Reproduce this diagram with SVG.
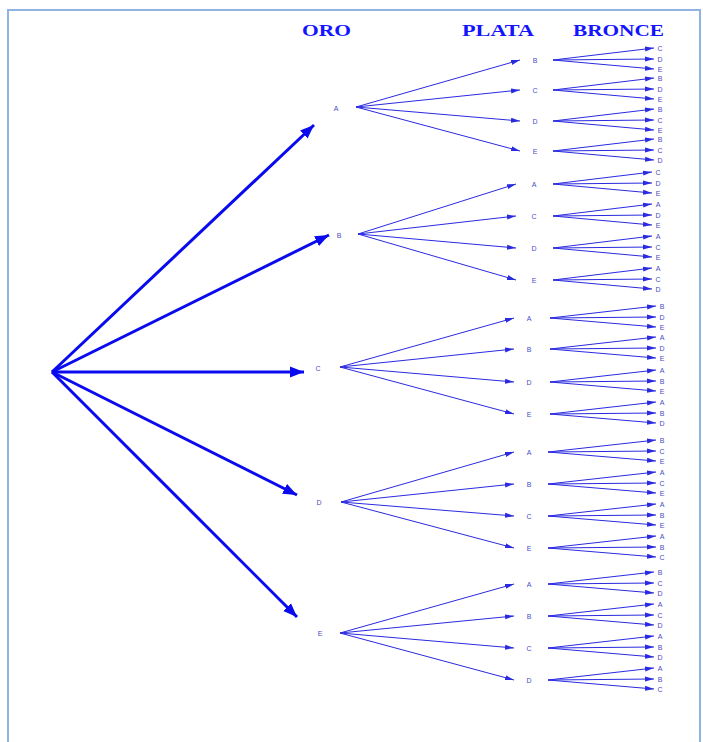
<svg xmlns="http://www.w3.org/2000/svg" width="703" height="742" viewBox="0 0 703 742">
<defs>
<marker id="big" markerUnits="userSpaceOnUse" markerWidth="16" markerHeight="12" refX="14" refY="6" orient="auto"><path d="M0,0.5 L14,6 L0,11.5 Z" fill="#0a0aee"/></marker>
<marker id="sm" markerUnits="userSpaceOnUse" markerWidth="10" markerHeight="6" refX="9" refY="3" orient="auto"><path d="M0,0.5 L9,3 L0,5.5 Z" fill="#2a2ae0"/></marker>
<style>
.h{font-family:"Liberation Serif",serif;font-weight:bold;font-size:16px;fill:#1414ff}
.n{font-family:"Liberation Sans",Arial,sans-serif;font-size:7px;fill:#4a4ac8;text-anchor:middle;dominant-baseline:central}
.b{stroke:#0a0aee;stroke-width:3;fill:none;marker-end:url(#big)}
.t{stroke:#2a2ae0;stroke-width:1;fill:none;marker-end:url(#sm)}
</style>
</defs>
<rect x="0" y="0" width="703" height="742" fill="#ffffff"/>
<rect x="8" y="10" width="692" height="745" fill="none" stroke="#8fb3e2" stroke-width="2"/>
<g id="headers">
<text class="h" x="302" y="36" textLength="49" lengthAdjust="spacingAndGlyphs">ORO</text>
<text class="h" x="462" y="36" textLength="72" lengthAdjust="spacingAndGlyphs">PLATA</text>
<text class="h" x="573" y="36" textLength="91" lengthAdjust="spacingAndGlyphs">BRONCE</text>
</g>
<g id="connectors">
<line class="b" x1="52" y1="372" x2="314" y2="125"/>
<line class="b" x1="52" y1="372" x2="329" y2="235"/>
<line class="b" x1="52" y1="372" x2="304" y2="372"/>
<line class="b" x1="52" y1="372" x2="297" y2="495"/>
<line class="b" x1="52" y1="372" x2="297" y2="617"/>
<!-- level 2 -->
<line class="t" x1="356" y1="107" x2="520" y2="60"/>
<line class="t" x1="356" y1="107" x2="520" y2="90"/>
<line class="t" x1="356" y1="107" x2="520" y2="121"/>
<line class="t" x1="356" y1="107" x2="520" y2="151"/>
<line class="t" x1="358" y1="234" x2="516" y2="184"/>
<line class="t" x1="358" y1="234" x2="516" y2="216"/>
<line class="t" x1="358" y1="234" x2="516" y2="248"/>
<line class="t" x1="358" y1="234" x2="516" y2="280"/>
<line class="t" x1="340" y1="367" x2="514" y2="318"/>
<line class="t" x1="340" y1="367" x2="514" y2="349"/>
<line class="t" x1="340" y1="367" x2="514" y2="382"/>
<line class="t" x1="340" y1="367" x2="514" y2="414"/>
<line class="t" x1="341" y1="502" x2="514" y2="452"/>
<line class="t" x1="341" y1="502" x2="514" y2="484"/>
<line class="t" x1="341" y1="502" x2="514" y2="516"/>
<line class="t" x1="341" y1="502" x2="514" y2="548"/>
<line class="t" x1="340" y1="633" x2="514" y2="584"/>
<line class="t" x1="340" y1="633" x2="514" y2="616"/>
<line class="t" x1="340" y1="633" x2="514" y2="648"/>
<line class="t" x1="340" y1="633" x2="514" y2="680"/>
<!-- level 3 group A -->
<line class="t" x1="553" y1="60" x2="654" y2="48"/>
<line class="t" x1="553" y1="60" x2="654" y2="59"/>
<line class="t" x1="553" y1="60" x2="654" y2="69"/>
<line class="t" x1="553" y1="90" x2="654" y2="78"/>
<line class="t" x1="553" y1="90" x2="654" y2="89"/>
<line class="t" x1="553" y1="90" x2="654" y2="99"/>
<line class="t" x1="553" y1="121" x2="654" y2="109"/>
<line class="t" x1="553" y1="121" x2="654" y2="120"/>
<line class="t" x1="553" y1="121" x2="654" y2="130"/>
<line class="t" x1="553" y1="151" x2="654" y2="139"/>
<line class="t" x1="553" y1="151" x2="654" y2="150"/>
<line class="t" x1="553" y1="151" x2="654" y2="160"/>
<!-- group B -->
<line class="t" x1="553" y1="184" x2="652" y2="172"/>
<line class="t" x1="553" y1="184" x2="652" y2="183"/>
<line class="t" x1="553" y1="184" x2="652" y2="193"/>
<line class="t" x1="553" y1="216" x2="652" y2="204"/>
<line class="t" x1="553" y1="216" x2="652" y2="215"/>
<line class="t" x1="553" y1="216" x2="652" y2="225"/>
<line class="t" x1="553" y1="248" x2="652" y2="236"/>
<line class="t" x1="553" y1="248" x2="652" y2="247"/>
<line class="t" x1="553" y1="248" x2="652" y2="257"/>
<line class="t" x1="553" y1="280" x2="652" y2="268"/>
<line class="t" x1="553" y1="280" x2="652" y2="279"/>
<line class="t" x1="553" y1="280" x2="652" y2="289"/>
<!-- group C -->
<line class="t" x1="550" y1="318" x2="656" y2="306"/>
<line class="t" x1="550" y1="318" x2="656" y2="317"/>
<line class="t" x1="550" y1="318" x2="656" y2="327"/>
<line class="t" x1="550" y1="349" x2="656" y2="337"/>
<line class="t" x1="550" y1="349" x2="656" y2="348"/>
<line class="t" x1="550" y1="349" x2="656" y2="358"/>
<line class="t" x1="550" y1="382" x2="656" y2="370"/>
<line class="t" x1="550" y1="382" x2="656" y2="381"/>
<line class="t" x1="550" y1="382" x2="656" y2="391"/>
<line class="t" x1="550" y1="414" x2="656" y2="402"/>
<line class="t" x1="550" y1="414" x2="656" y2="413"/>
<line class="t" x1="550" y1="414" x2="656" y2="423"/>
<!-- group D -->
<line class="t" x1="548" y1="452" x2="656" y2="440"/>
<line class="t" x1="548" y1="452" x2="656" y2="451"/>
<line class="t" x1="548" y1="452" x2="656" y2="461"/>
<line class="t" x1="548" y1="484" x2="656" y2="472"/>
<line class="t" x1="548" y1="484" x2="656" y2="483"/>
<line class="t" x1="548" y1="484" x2="656" y2="493"/>
<line class="t" x1="548" y1="516" x2="656" y2="504"/>
<line class="t" x1="548" y1="516" x2="656" y2="515"/>
<line class="t" x1="548" y1="516" x2="656" y2="525"/>
<line class="t" x1="548" y1="548" x2="656" y2="536"/>
<line class="t" x1="548" y1="548" x2="656" y2="547"/>
<line class="t" x1="548" y1="548" x2="656" y2="557"/>
<!-- group E -->
<line class="t" x1="548" y1="584" x2="654" y2="572"/>
<line class="t" x1="548" y1="584" x2="654" y2="583"/>
<line class="t" x1="548" y1="584" x2="654" y2="593"/>
<line class="t" x1="548" y1="616" x2="654" y2="604"/>
<line class="t" x1="548" y1="616" x2="654" y2="615"/>
<line class="t" x1="548" y1="616" x2="654" y2="625"/>
<line class="t" x1="548" y1="648" x2="654" y2="636"/>
<line class="t" x1="548" y1="648" x2="654" y2="647"/>
<line class="t" x1="548" y1="648" x2="654" y2="657"/>
<line class="t" x1="548" y1="680" x2="654" y2="668"/>
<line class="t" x1="548" y1="680" x2="654" y2="679"/>
<line class="t" x1="548" y1="680" x2="654" y2="689"/>
</g>
<!-- level 1 nodes -->
<g id="oro-A"><text class="n" x="336" y="108">A</text></g>
<g id="oro-B"><text class="n" x="339" y="235">B</text></g>
<g id="oro-C"><text class="n" x="318" y="368">C</text></g>
<g id="oro-D"><text class="n" x="319" y="502">D</text></g>
<g id="oro-E"><text class="n" x="320" y="633">E</text></g>
<!-- level 2 nodes -->
<g id="plata-AB"><text class="n" x="535" y="60">B</text></g>
<g id="plata-AC"><text class="n" x="535" y="90">C</text></g>
<g id="plata-AD"><text class="n" x="535" y="121">D</text></g>
<g id="plata-AE"><text class="n" x="535" y="151">E</text></g>
<g id="plata-BA"><text class="n" x="534" y="184">A</text></g>
<g id="plata-BC"><text class="n" x="534" y="216">C</text></g>
<g id="plata-BD"><text class="n" x="534" y="248">D</text></g>
<g id="plata-BE"><text class="n" x="534" y="280">E</text></g>
<g id="plata-CA"><text class="n" x="529" y="318">A</text></g>
<g id="plata-CB"><text class="n" x="529" y="349">B</text></g>
<g id="plata-CD"><text class="n" x="529" y="382">D</text></g>
<g id="plata-CE"><text class="n" x="529" y="414">E</text></g>
<g id="plata-DA"><text class="n" x="529" y="452">A</text></g>
<g id="plata-DB"><text class="n" x="529" y="484">B</text></g>
<g id="plata-DC"><text class="n" x="529" y="516">C</text></g>
<g id="plata-DE"><text class="n" x="529" y="548">E</text></g>
<g id="plata-EA"><text class="n" x="529" y="584">A</text></g>
<g id="plata-EB"><text class="n" x="529" y="616">B</text></g>
<g id="plata-EC"><text class="n" x="529" y="648">C</text></g>
<g id="plata-ED"><text class="n" x="529" y="680">D</text></g>
<!-- level 3 nodes -->
<g id="bronce-A">
<text class="n" x="660" y="48">C</text><text class="n" x="660" y="59">D</text><text class="n" x="660" y="69">E</text>
<text class="n" x="660" y="78">B</text><text class="n" x="660" y="89">D</text><text class="n" x="660" y="99">E</text>
<text class="n" x="660" y="109">B</text><text class="n" x="660" y="120">C</text><text class="n" x="660" y="130">E</text>
<text class="n" x="660" y="139">B</text><text class="n" x="660" y="150">C</text><text class="n" x="660" y="160">D</text>
</g>
<g id="bronce-B">
<text class="n" x="658" y="172">C</text><text class="n" x="658" y="183">D</text><text class="n" x="658" y="193">E</text>
<text class="n" x="658" y="204">A</text><text class="n" x="658" y="215">D</text><text class="n" x="658" y="225">E</text>
<text class="n" x="658" y="236">A</text><text class="n" x="658" y="247">C</text><text class="n" x="658" y="257">E</text>
<text class="n" x="658" y="268">A</text><text class="n" x="658" y="279">C</text><text class="n" x="658" y="289">D</text>
</g>
<g id="bronce-C">
<text class="n" x="662" y="306">B</text><text class="n" x="662" y="317">D</text><text class="n" x="662" y="327">E</text>
<text class="n" x="662" y="337">A</text><text class="n" x="662" y="348">D</text><text class="n" x="662" y="358">E</text>
<text class="n" x="662" y="370">A</text><text class="n" x="662" y="381">B</text><text class="n" x="662" y="391">E</text>
<text class="n" x="662" y="402">A</text><text class="n" x="662" y="413">B</text><text class="n" x="662" y="423">D</text>
</g>
<g id="bronce-D">
<text class="n" x="662" y="440">B</text><text class="n" x="662" y="451">C</text><text class="n" x="662" y="461">E</text>
<text class="n" x="662" y="472">A</text><text class="n" x="662" y="483">C</text><text class="n" x="662" y="493">E</text>
<text class="n" x="662" y="504">A</text><text class="n" x="662" y="515">B</text><text class="n" x="662" y="525">E</text>
<text class="n" x="662" y="536">A</text><text class="n" x="662" y="547">B</text><text class="n" x="662" y="557">C</text>
</g>
<g id="bronce-E">
<text class="n" x="660" y="572">B</text><text class="n" x="660" y="583">C</text><text class="n" x="660" y="593">D</text>
<text class="n" x="660" y="604">A</text><text class="n" x="660" y="615">C</text><text class="n" x="660" y="625">D</text>
<text class="n" x="660" y="636">A</text><text class="n" x="660" y="647">B</text><text class="n" x="660" y="657">D</text>
<text class="n" x="660" y="668">A</text><text class="n" x="660" y="679">B</text><text class="n" x="660" y="689">C</text>
</g>
</svg>
